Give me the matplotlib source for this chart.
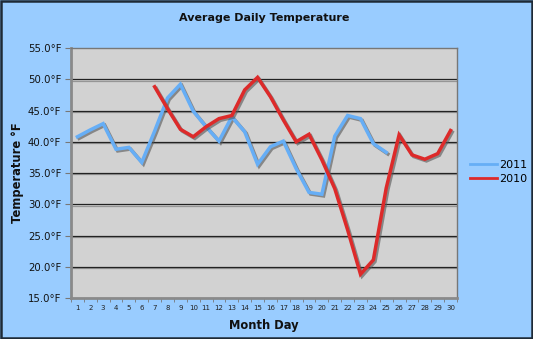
import matplotlib
matplotlib.use("Agg")
import matplotlib.pyplot as plt
import matplotlib.patheffects as pe
from matplotlib.patches import Rectangle
from matplotlib.lines import Line2D
import numpy as np

days = list(range(1, 31))
days_2011 = list(range(1, 26))
temp_2011 = [40.8, 41.9, 42.9, 38.8, 39.1, 36.7, 41.7, 47.0, 49.2, 44.9,
             42.4, 40.1, 44.0, 41.6, 36.4, 39.2, 40.1, 35.7, 31.9, 31.6,
             40.9, 44.2, 43.7, 39.7, 38.3]
days_2010 = list(range(7, 31))
temp_2010 = [48.8, 45.3, 42.0, 40.8, 42.4, 43.7, 44.2, 48.3, 50.3, 47.2,
             43.5, 40.0, 41.2, 37.1, 32.5, 25.9, 18.8, 21.1, 32.6, 41.1,
             37.9, 37.2, 38.1, 41.8]
yticks = [15, 20, 25, 30, 35, 40, 45, 50, 55]

bg = "#99CCFF"
c2011 = "#66AEF6"
c2010 = "#DD2A2A"
fig = plt.figure(figsize=(5.33, 3.39), dpi=100, facecolor=bg)
fig.patches.append(Rectangle((0.0015, 0.0025), 0.997, 0.995,
                             transform=fig.transFigure, facecolor="none",
                             edgecolor="#1E2A36", linewidth=1.8, zorder=10))
ax = fig.add_axes([0.1332, 0.1209, 0.7242, 0.7375])
ax.set_facecolor("#D2D2D2")

shadow = [pe.SimpleLineShadow(offset=(1.2, -1.2), shadow_color="#555555", alpha=0.6), pe.Normal()]
ax.plot(days_2011, temp_2011, color=c2011, lw=2.5,
        path_effects=shadow, zorder=3, solid_joinstyle="miter")
ax.plot(days_2010, temp_2010, color=c2010, lw=2.5,
        path_effects=shadow, zorder=4, solid_joinstyle="miter")

ax.set_xlim(0.5, 30.5)
ax.set_ylim(15, 55)
ax.set_yticks(yticks)
ax.set_yticklabels([f"{v:.1f}°F" for v in yticks], fontsize=7.3)
ax.set_xticks(days)
ax.set_xticklabels([str(d) for d in days], fontsize=5)
ax.set_xticks(np.arange(0.5, 31, 1), minor=True)
ax.tick_params(axis="x", which="major", length=0, pad=5, colors="#222222")
ax.tick_params(axis="x", which="minor", length=3, color="#777777")
ax.tick_params(axis="y", length=4, color="#777777", pad=3, labelcolor="#111111")

gl_shadow = [pe.SimpleLineShadow(offset=(0, -1), shadow_color="#888888", alpha=0.8), pe.Normal()]
for v in yticks[1:-1]:
    ax.axhline(v, color="#222222", lw=0.9, zorder=1, path_effects=gl_shadow)
ax.axhline(55, color="#555555", lw=1.2, zorder=1)

for s in ["left", "bottom"]:
    ax.spines[s].set_color("#8A8A8A")
    ax.spines[s].set_linewidth(2)
for s in ["top", "right"]:
    ax.spines[s].set_color("#777777")
    ax.spines[s].set_linewidth(1)

ax.set_title("Average Daily Temperature", fontsize=8, fontweight="bold", pad=19.5, color="#111111")
ax.set_xlabel("Month Day", fontsize=8.3, fontweight="bold", labelpad=6, color="#111111")
ax.set_ylabel("Temperature °F", fontsize=8.3, fontweight="bold", labelpad=3, color="#111111")

handles = [Line2D([], [], color=c2011, lw=2), Line2D([], [], color=c2010, lw=2)]
fig.legend(handles, ["2011", "2010"], loc="center left",
           bbox_to_anchor=(470 / 533, 1 - 172 / 339), frameon=False,
           fontsize=8, handlelength=2.4, handletextpad=0.25, labelspacing=0.3,
           borderpad=0, borderaxespad=0)

fig.savefig("out.png", dpi=100, facecolor=bg)
